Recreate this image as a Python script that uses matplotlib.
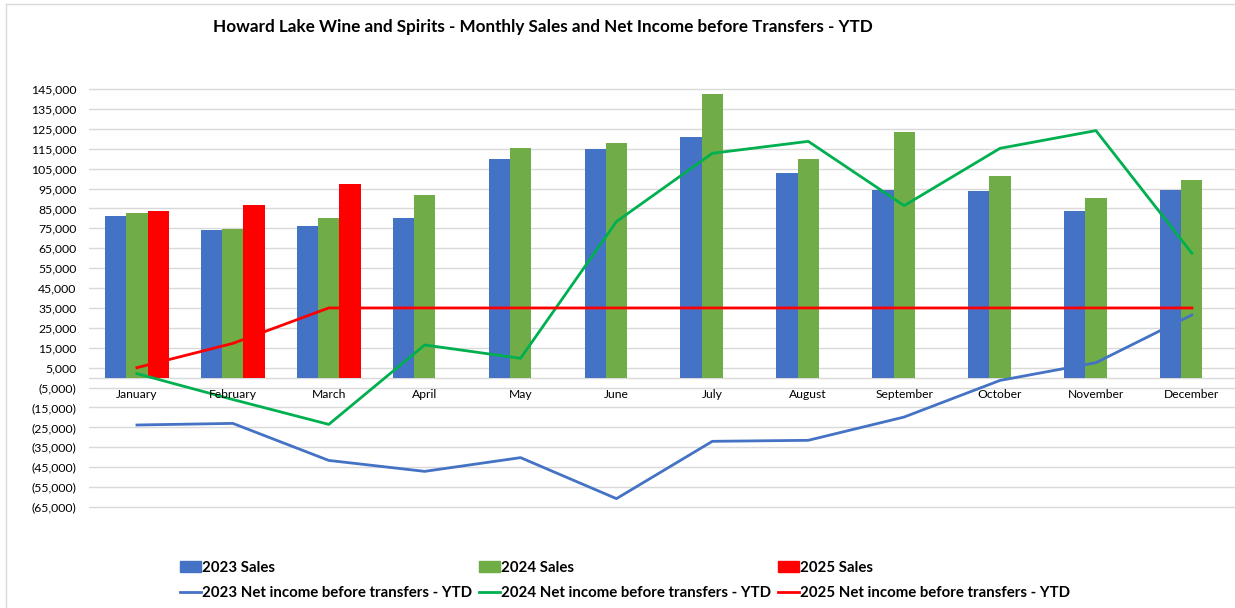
import matplotlib
matplotlib.use("Agg")
import matplotlib.pyplot as plt
import numpy as np
from matplotlib.lines import Line2D
from matplotlib.patches import Patch

months = ["January", "February", "March", "April", "May", "June", "July",
          "August", "September", "October", "November", "December"]
sales_2023 = [81200, 74400, 76400, 80000, 110000, 115000, 120900, 102700, 94100, 93800, 83600, 94100]
sales_2024 = [82500, 74500, 80400, 91600, 115200, 117900, 142500, 109900, 123300, 101500, 90300, 99500]
sales_2025 = [83700, 86600, 97500]
net_2023 = [-23800, -23000, -41600, -47100, -40200, -60800, -32000, -31500, -19800, -1400, 7500, 31500]
net_2024 = [2000, -11000, -23500, 16400, 9700, 78400, 112700, 118700, 86400, 115200, 124100, 62500]
net_2025 = [5000, 17200, 35000, 35000, 35000, 35000, 35000, 35000, 35000, 35000, 35000, 35000]
yticks = list(range(-65000, 145001, 10000))
title = "Howard Lake Wine and Spirits - Monthly Sales and Net Income before Transfers - YTD"
labels = ["2023 Sales", "2024 Sales", "2025 Sales",
          "2023 Net income before transfers - YTD",
          "2024 Net income before transfers - YTD",
          "2025 Net income before transfers - YTD"]

C_BLUE = "#4472C4"
C_GREEN_BAR = "#70AD47"
C_RED = "#FF0000"
C_GREEN_LINE = "#00B050"
C_GRID = "#D9D9D9"

FONT = "Lato"
plt.rcParams["font.family"] = [FONT, "DejaVu Sans"]

W, H = 1235, 608
fig = plt.figure(figsize=(W / 100, H / 100), dpi=100)

# axes geometry in pixels
x_left_px = 89
slot_px = 95.9
x_right_px = x_left_px + 12 * slot_px
ymin, ymax = -66000, 146000
px_per_unit = 19.9 / 10000
y_top_px = 89 - (ymax - 145000) * px_per_unit
y_bot_px = 507 + (-65000 - ymin) * px_per_unit
ax = fig.add_axes([x_left_px / W, 1 - y_bot_px / H,
                   (x_right_px - x_left_px) / W, (y_bot_px - y_top_px) / H])
ax.set_xlim(-0.5, 11.5)
ax.set_ylim(ymin, ymax)

for s in ax.spines.values():
    s.set_visible(False)

ax.set_yticks(yticks)
ax.set_yticklabels([f"{v:,.0f}" if v >= 0 else f"({-v:,.0f})" for v in yticks],
                   fontsize=8.8, color="#000000")
ax.tick_params(axis="y", length=0, pad=9)
ax.set_xticks([])
ax.yaxis.grid(True, color=C_GRID, linewidth=1.0)
ax.set_axisbelow(True)
ax.axhline(0, color=C_GRID, linewidth=1.0, zorder=1)

x = np.arange(len(months))
bw = 0.222
ax.bar(x - bw, sales_2023, width=bw, color=C_BLUE, zorder=2)
ax.bar(x, sales_2024, width=bw, color=C_GREEN_BAR, zorder=2)
ax.bar(np.arange(len(sales_2025)) + bw, sales_2025, width=bw, color=C_RED, zorder=2)

ax.plot(x, net_2023, color=C_BLUE, linewidth=2, zorder=3, clip_on=False)
ax.plot(x, net_2024, color=C_GREEN_LINE, linewidth=2, zorder=4, clip_on=False)
ax.plot(x, net_2025, color=C_RED, linewidth=2, zorder=5, clip_on=False)

for i, m in enumerate(months):
    ax.annotate(m, (i, 0), xytext=(0, -8), textcoords="offset points",
                ha="center", va="top", fontsize=8.7, color="#000000", zorder=6)

# title fitted to width
renderer = fig.canvas.get_renderer()
t = fig.text(543 / W, 1 - 27 / H, title, ha="center", va="center",
             fontsize=11, fontweight="bold")
wpx = t.get_window_extent(renderer).width
t.set_fontsize(11 * 658 / wpx)

# legend
leg_fs = 10
tmp = fig.text(0, 0, labels[3], fontsize=leg_fs, fontweight="bold")
tw = tmp.get_window_extent(renderer).width
leg_fs = leg_fs * 272 / tw
tmp.set_fontsize(leg_fs)
tw = tmp.get_window_extent(renderer).width
tmp.remove()
fs_px = leg_fs * 100 / 72
hl = 21 / fs_px
htp = 1 / fs_px
colsp = (299 - 21 - 1 - tw) / fs_px

handles = [Patch(color=C_BLUE), Line2D([], [], color=C_BLUE, linewidth=2),
           Patch(color=C_GREEN_BAR), Line2D([], [], color=C_GREEN_LINE, linewidth=2),
           Patch(color=C_RED), Line2D([], [], color=C_RED, linewidth=2)]
leg_labels = [labels[0], labels[3], labels[1], labels[4], labels[2], labels[5]]
fig.legend(handles, leg_labels, loc="upper left",
           bbox_to_anchor=(180 / W, 1 - 561 / H), ncol=3, frameon=False,
           borderpad=0, borderaxespad=0, handlelength=hl, handletextpad=htp,
           columnspacing=colsp, labelspacing=0.75,
           prop={"family": [FONT, "DejaVu Sans"], "weight": "bold", "size": leg_fs})

# outer chart border (top and left visible)
fig.add_artist(Line2D([6 / W, 6 / W], [0, 1 - 4 / H], color=C_GRID, linewidth=1,
                      transform=fig.transFigure))
fig.add_artist(Line2D([6 / W, 1], [1 - 4 / H, 1 - 4 / H], color=C_GRID, linewidth=1,
                      transform=fig.transFigure))

fig.savefig("out.png", dpi=100, facecolor="white")
